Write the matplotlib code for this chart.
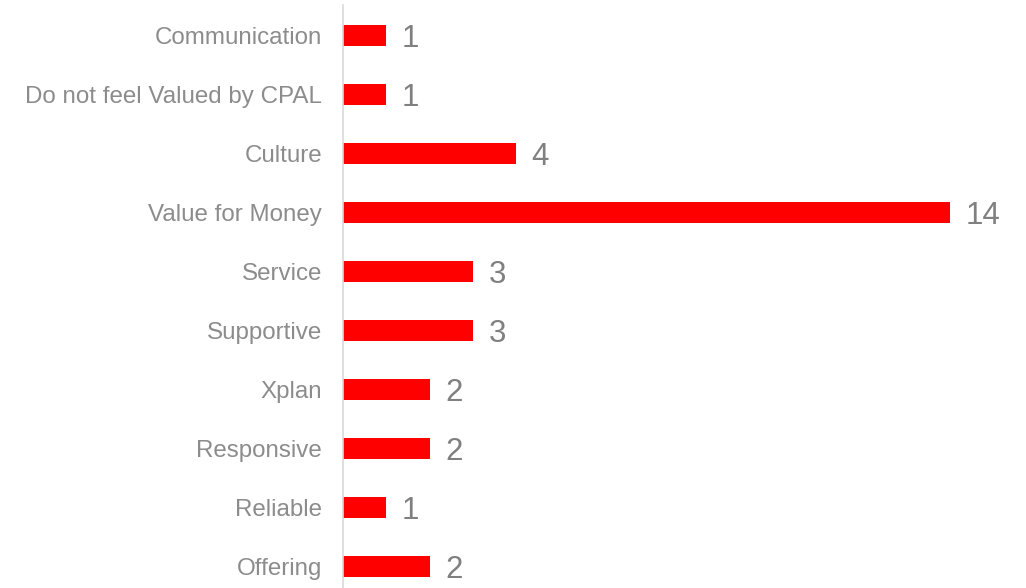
import matplotlib
matplotlib.use("Agg")
import matplotlib.pyplot as plt

categories = ["Communication", "Do not feel Valued by CPAL", "Culture", "Value for Money",
              "Service", "Supportive", "Xplan", "Responsive", "Reliable", "Offering"]
counts = [1, 1, 4, 14, 3, 3, 2, 2, 1, 2]

plt.rcParams["font.family"] = ["Liberation Sans", "DejaVu Sans"]

W, H = 1026, 588
fig = plt.figure(figsize=(W / 100, H / 100), dpi=100)

# axes geometry in pixels: one category slot ~59 px, one unit ~43.4 px
left_px, top_px = 343, 5.5
slot = 59.1
ax_h = slot * len(categories)
xmax = 15
ax_w = 43.36 * xmax
ax = fig.add_axes([left_px / W, (H - top_px - ax_h) / H, ax_w / W, ax_h / H])

y = list(range(len(categories)))
ax.barh(y, counts, height=0.355, color="#ff0000", left=0)
ax.set_ylim(len(categories) - 0.5, -0.5)
ax.set_xlim(0, xmax)

ax.set_yticks(y)
ax.set_yticklabels(categories, fontsize=17.4, color="#8c8c8c")
ax.tick_params(axis="y", length=0, pad=15)
ax.set_xticks([])

for s in ["top", "right", "bottom"]:
    ax.spines[s].set_visible(False)
ax.spines["left"].set_color("#d9d9d9")
ax.spines["left"].set_linewidth(1.2)

for yi, v in zip(y, counts):
    ax.annotate(str(v), xy=(v, yi), xytext=(11, -2.5), textcoords="offset points",
                va="center", ha="left", fontsize=22.5, color="#808080")

fig.savefig("out.png", dpi=100)
